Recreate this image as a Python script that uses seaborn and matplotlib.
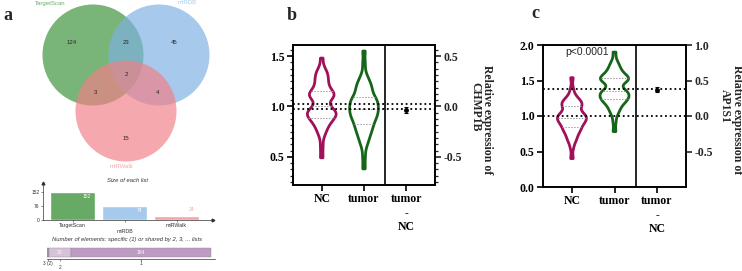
import numpy as np
import pandas as pd
import matplotlib.pyplot as plt
from matplotlib.patches import Circle
from matplotlib.ticker import AutoMinorLocator
import seaborn as sns

sns.set_theme(style="ticks")
plt.rcParams["font.family"] = ["Liberation Serif", "DejaVu Serif"]
plt.rcParams["font.weight"] = "bold"
plt.rcParams["axes.unicode_minus"] = False
SANS = ["Liberation Sans", "DejaVu Sans"]

# ---- panel a: overlap of predicted targets
set_names = ["TargetScan", "miRDB", "miRWalk"]
only_counts = [124, 45, 15]        # TS only, DB only, Walk only
pair_counts = [23, 3, 4]           # TS&DB, TS&Walk, DB&Walk
all_count = 2
list_sizes = [152, 74, 24]
size_ticks = [0, 76, 152]
shared_labels = ["3 (2)", "2", "1"]
shared_counts = [2, 30, 184]

set_colors = ["#3A923A", "#7EB0E2", "#F17F86"]
bar_colors = ["#66AA66", "#A6CAEB", "#F5A3A8"]
shared_colors = ["#9C9C9C", "#D7C2DA", "#BE9BC2"]

# ---- panels b, c: relative expression
groups = ["NC", "tumor"]
chmp1b_nc = [0.49, 0.60, 0.70, 0.74, 0.77, 0.79, 0.81, 0.83, 0.85, 0.86, 0.87,
             0.88, 0.89, 0.90, 0.91, 0.92, 0.93, 0.93, 0.94, 0.95, 0.95, 0.96,
             0.97, 0.98, 1.00, 1.02, 1.06, 1.08, 1.09, 1.10, 1.10, 1.11, 1.12,
             1.12, 1.13, 1.14, 1.15, 1.17, 1.19, 1.21, 1.23, 1.25, 1.27, 1.29,
             1.31, 1.33, 1.35, 1.38, 1.48]
chmp1b_tumor = [0.38, 0.50, 0.60, 0.64, 0.67, 0.70, 0.72, 0.74, 0.76, 0.78, 0.79,
                0.81, 0.82, 0.84, 0.85, 0.87, 0.88, 0.89, 0.90, 0.91, 0.92, 0.93,
                0.94, 0.95, 0.96, 0.97, 0.98, 0.99, 1.00, 1.01, 1.02, 1.03, 1.04,
                1.05, 1.06, 1.07, 1.08, 1.09, 1.10, 1.12, 1.14, 1.16, 1.18, 1.19,
                1.21, 1.22, 1.25, 1.28, 1.31, 1.42, 1.55]
ap1s1_nc = [0.40, 0.55, 0.63, 0.66, 0.69, 0.72, 0.75, 0.77, 0.79, 0.80, 0.82,
            0.84, 0.85, 0.87, 0.88, 0.90, 0.91, 0.92, 0.93, 0.94, 0.95, 0.96,
            0.97, 0.98, 0.99, 1.00, 1.01, 1.02, 1.03, 1.04, 1.05, 1.07, 1.11,
            1.13, 1.14, 1.15, 1.16, 1.18, 1.19, 1.20, 1.22, 1.24, 1.26, 1.30,
            1.38, 1.54]
ap1s1_tumor = [0.78, 0.92, 1.02, 1.06, 1.09, 1.12, 1.15, 1.17, 1.19, 1.20, 1.22,
               1.23, 1.24, 1.25, 1.26, 1.27, 1.29, 1.30, 1.31, 1.32, 1.33, 1.34,
               1.35, 1.36, 1.38, 1.40, 1.46, 1.48, 1.49, 1.50, 1.51, 1.52, 1.52,
               1.53, 1.54, 1.55, 1.56, 1.58, 1.60, 1.62, 1.64, 1.67, 1.70, 1.73,
               1.78, 1.90]
chmp1b_means = [1.02, 0.97]
chmp1b_diff, chmp1b_ci = -0.04, 0.03
ap1s1_means = [1.0, 1.38]
ap1s1_diff, ap1s1_ci = 0.37, 0.035

group_colors = {"NC": "#A0115A", "tumor": "#16661A"}

W, H = 742, 271
fig = plt.figure(figsize=(W / 100, H / 100), dpi=100)


def px_axes(x0, y0, x1, y1):
    return fig.add_axes([x0 / W, 1 - y1 / H, (x1 - x0) / W, (y1 - y0) / H])


# ---------------- panel a: venn
ax = px_axes(0, 0, 230, 175)
ax.set_xlim(0, 230)
ax.set_ylim(175, 0)
ax.axis("off")
centers = [(93, 55), (159, 55), (126, 111)]
for (cx, cy), col in zip(centers, set_colors):
    ax.add_patch(Circle((cx, cy), 50.5, facecolor=col, alpha=0.68, lw=0))
name_pos = [(50, 3), (187, 3), (122, 167)]
for name, (x, y), col in zip(set_names, name_pos, bar_colors):
    ax.text(x, y, name, color=col, fontsize=4.3, family=SANS, weight="normal",
            ha="center", va="center")
txt = dict(fontsize=4.3, family=SANS, weight="normal", ha="center", va="center")
for n, (x, y) in zip(only_counts, [(72, 42), (174, 42), (126, 139)]):
    ax.text(x, y, str(n), **txt)
for n, (x, y) in zip(pair_counts, [(126, 42), (95, 93), (158, 93)]):
    ax.text(x, y, str(n), **txt)
ax.text(126, 74, str(all_count), **txt)

# size of each list
axs = px_axes(43, 183, 213, 220)
sns.barplot(x=set_names, y=list_sizes, hue=set_names, palette=bar_colors,
            width=0.865, saturation=1, legend=False, ax=axs)
axs.set_xlim(-0.567, 2.70)
axs.set_ylim(0, 201)
axs.set_yticks(size_ticks, [str(t) for t in size_ticks], fontsize=3.5,
               family=SANS, weight="normal")
axs.set_xticks([0, 1, 2], [set_names[0], "\n" + set_names[1], set_names[2]],
               fontsize=3.8, family=SANS, weight="normal")
axs.tick_params(length=1.5, width=0.4, pad=1, colors="#333333")
for i, v in enumerate(list_sizes):
    if v > 50:
        axs.text(i + 0.28, v - 22, str(v), color="white", **{**txt, "fontsize": 3.6})
    else:
        axs.text(i + 0.28, v + 32, str(v), color=bar_colors[i], **{**txt, "fontsize": 3.6})
sns.despine(ax=axs)
for s in ["left", "bottom"]:
    axs.spines[s].set_linewidth(0.5)
    axs.spines[s].set_color("#333333")
axs.plot(0, 1, "^", color="#333333", ms=2, transform=axs.transAxes, clip_on=False)
axs.plot(1, 0, ">", color="#333333", ms=2, transform=axs.transAxes, clip_on=False)
axs.set_ylabel("")

# shared elements bar
axu = px_axes(47, 246, 215, 259)
lefts = np.cumsum([0] + shared_counts[:-1])
axu.barh([0] * 3, shared_counts, left=lefts, height=1, color=shared_colors,
         edgecolor="#8a8a8a", linewidth=0.3)
for l, c in zip(lefts[1:], shared_counts[1:]):
    axu.text(l + c / 2, 0, str(c), color="white", **{**txt, "fontsize": 3.6})
axu.set_xlim(0, 221)
axu.set_ylim(-0.72, 0.72)
mids = lefts + np.array(shared_counts) / 2
axu.set_xticks(mids, [shared_labels[0], "\n" + shared_labels[1], shared_labels[2]],
               fontsize=3.4, family=SANS, weight="normal", linespacing=0.8)
axu.set_yticks([])
axu.tick_params(length=1.2, width=0.4, pad=0.3, colors="#333333")
sns.despine(ax=axu, left=True)
axu.spines["bottom"].set_linewidth(0.5)
axu.spines["bottom"].set_color("#333333")

cap = dict(fontsize=4.2, family=SANS, weight="normal", style="italic",
           ha="center", va="center", color="#333333")
fig.text(127 / W, 1 - 180 / H, "Size of each list", **cap)
fig.text(127 / W, 1 - 240 / H,
         "Number of elements: specific (1) or shared by 2, 3, ... lists", **cap)


# ---------------- panels b, c
def expression_panel(rect, nc, tumor, means, diff, ci, ylim, yticks, rticks, minor):
    ax = px_axes(*rect)
    df = pd.DataFrame({"group": ["NC"] * len(nc) + ["tumor"] * len(tumor),
                       "value": nc + tumor})
    sns.violinplot(data=df, x="group", y="value", hue="group", order=groups,
                   palette=group_colors, fill=False, inner="quart", cut=0,
                   bw_adjust=0.5, density_norm="width", width=0.68, linewidth=2.0,
                   inner_kws=dict(color="#9a9a9a", linewidth=0.7, dashes=(1.5, 1.5)),
                   legend=False, ax=ax)
    for m in means:
        ax.axhline(m, color="black", lw=1.3, ls=(0, (1, 1.6)), zorder=5)
    ax.axvline(1.5, color="black", lw=1.2)
    ax.set_xlim(-0.68, 2.68)
    ax.set_ylim(*ylim)
    ax.set_yticks(yticks)
    ax.set_xticks([0, 1, 2], ["NC", "tumor", "tumor\n-\nNC"])
    ax.set_xlabel("")
    ax.set_ylabel("")
    if minor:
        ax.yaxis.set_minor_locator(AutoMinorLocator(8))
    ax.tick_params(axis="both", which="major", length=4, width=1.2,
                   labelsize=8.5, pad=2, colors="black")
    ax.tick_params(axis="y", which="minor", length=2, width=0.9)
    for s in ax.spines.values():
        s.set_linewidth(1.2)
        s.set_color("black")
        s.set_visible(True)

    ax2 = ax.twinx()
    ax2.set_ylim(ylim[0] - 1, ylim[1] - 1)
    ax2.set_yticks(rticks)
    if minor:
        ax2.yaxis.set_minor_locator(AutoMinorLocator(8))
    ax2.errorbar([2], [diff], yerr=[ci], fmt="o", color="black", ms=2.5,
                 capsize=1.5, elinewidth=0.8, capthick=0.8)
    ax2.tick_params(axis="y", which="major", length=4, width=1.2,
                    labelsize=8.5, pad=2)
    ax2.tick_params(axis="y", which="minor", length=2, width=0.9)
    for s in ax2.spines.values():
        s.set_linewidth(1.2)
        s.set_color("black")
    return ax


expression_panel((293, 45, 435, 185), chmp1b_nc, chmp1b_tumor, chmp1b_means,
                 chmp1b_diff, chmp1b_ci, (0.22, 1.61), [0.5, 1.0, 1.5],
                 [-0.5, 0.0, 0.5], True)
axc = expression_panel((543, 45, 686, 187), ap1s1_nc, ap1s1_tumor, ap1s1_means,
                       ap1s1_diff, ap1s1_ci, (0.0, 2.0),
                       [0.0, 0.5, 1.0, 1.5, 2.0], [-0.5, 0.0, 0.5, 1.0], False)
axc.text(0.35, 1.90, "p<0.0001", fontsize=7.5, family=SANS, weight="normal",
         ha="center", va="center")

lab = dict(fontsize=8.5, rotation=270, ha="center", va="center")
fig.text(487 / W, 1 - 120 / H, "Relative expression of", **lab)
fig.text(475 / W, 1 - 107 / H, "CHMP1B", **lab)
fig.text(737 / W, 1 - 120 / H, "Relative expression of", **lab)
fig.text(725 / W, 1 - 106 / H, "AP1S1", **lab)

for letter, (x, y) in zip("abc", [(8, 16), (292, 15), (535, 13)]):
    fig.text(x / W, 1 - y / H, letter, fontsize=13, ha="center", va="center")

fig.savefig("out.png", dpi=100)
